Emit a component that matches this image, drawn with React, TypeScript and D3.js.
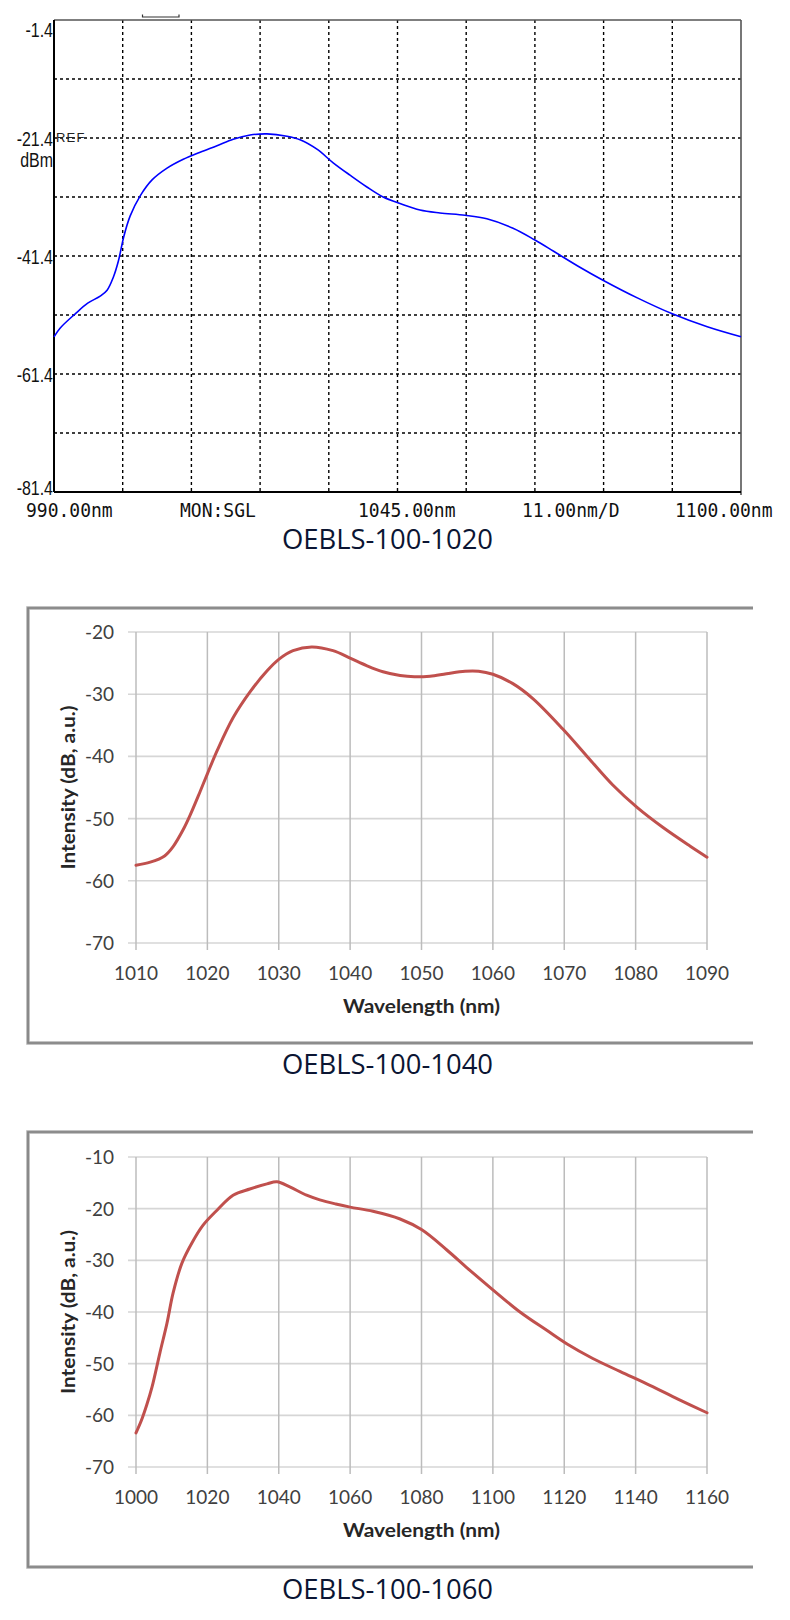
import React from 'react';
import * as d3 from 'd3';

// ---------- Panel 1 (OSA screen, OEBLS-100-1020) ----------
const osaWavelength = [990, 991, 993.4, 995.4, 997.4, 998.5, 999.5, 1000.3, 1001.2, 1002.2, 1003.8, 1005.7, 1008.1, 1010.7, 1013.4, 1016.1, 1018.7, 1021.4, 1024.1, 1027.3, 1029.4, 1032.1, 1034.7, 1037.4, 1040.1, 1042.7, 1045.4, 1048.6, 1051.8, 1055.8, 1059.3, 1063.5, 1067, 1070, 1074.2, 1077.9, 1083.4, 1089, 1094.6, 1100];
const osaPower = [-55.1, -53.6, -51.2, -49.4, -48.2, -47.2, -45.0, -42.3, -38.0, -34.6, -31.2, -28.5, -26.5, -25.0, -23.8, -22.7, -21.6, -20.9, -20.7, -21.1, -21.7, -23.3, -25.6, -27.7, -29.7, -31.4, -32.5, -33.6, -34.1, -34.5, -35.1, -36.7, -38.7, -40.6, -43.3, -45.5, -48.5, -51.2, -53.4, -55.1];
const osaYTicks = [-1.4, -21.4, -41.4, -61.4, -81.4];
const osaBottomLabels = ['990.00nm', 'MON:SGL', '1045.00nm', '11.00nm/D', '1100.00nm'];

// ---------- Panel 2 (OEBLS-100-1040) ----------
const wl1040 = [1010, 1012, 1014, 1015.2, 1016.6, 1017.6, 1019, 1020, 1021.4, 1023.6, 1026, 1028.4, 1030, 1032, 1034.6, 1037.6, 1040, 1042.3, 1044.6, 1047, 1049, 1051.2, 1053.5, 1056.1, 1058, 1060, 1062.8, 1065.6, 1069.8, 1073.2, 1076.8, 1080.2, 1083.8, 1087.6, 1090];
const int1040 = [-57.5, -57.0, -56.0, -54.5, -51.8, -49.4, -45.6, -42.8, -39.0, -33.8, -29.6, -26.2, -24.4, -23.0, -22.4, -23.0, -24.2, -25.4, -26.4, -27.0, -27.2, -27.1, -26.7, -26.3, -26.3, -26.8, -28.3, -30.7, -35.6, -40.0, -44.6, -48.2, -51.4, -54.4, -56.2];
const xTicks1040 = [1010, 1020, 1030, 1040, 1050, 1060, 1070, 1080, 1090];
const yTicks1040 = [-20, -30, -40, -50, -60, -70];

// ---------- Panel 3 (OEBLS-100-1060) ----------
const wl1060 = [1000, 1001.5, 1003, 1004.5, 1006.7, 1008.7, 1010.4, 1012.9, 1015.7, 1018.8, 1022.7, 1027.2, 1031.9, 1036.7, 1039.5, 1043.1, 1047.8, 1051.5, 1056, 1060, 1066.4, 1074, 1080.1, 1087.1, 1093, 1100, 1107.6, 1115.2, 1120.8, 1128, 1135.6, 1144, 1152, 1160];
const int1060 = [-63.4, -61.0, -58.0, -54.5, -47.9, -42.1, -36.3, -30.5, -26.6, -23.2, -20.3, -17.4, -16.2, -15.2, -14.8, -15.8, -17.4, -18.3, -19.1, -19.7, -20.5, -22.0, -24.1, -28.0, -31.6, -35.7, -40.0, -43.6, -46.2, -49.0, -51.5, -54.2, -56.9, -59.5];
const xTicks1060 = [1000, 1020, 1040, 1060, 1080, 1100, 1120, 1140, 1160];
const yTicks1060 = [-10, -20, -30, -40, -50, -60, -70];

const captions = ['OEBLS-100-1020', 'OEBLS-100-1040', 'OEBLS-100-1060'];
const xTitle = 'Wavelength (nm)';
const yTitle = 'Intensity (dB, a.u.)';

const W = 790;
const H = 1620;

function OsaPanel() {
  const L = 54, R = 741, T = 20, B = 492;
  const x = d3.scaleLinear().domain([990, 1100]).range([L, R]);
  const y = d3.scaleLinear().domain([-81.4, -1.4]).range([B, T]);
  const vGrid = d3.range(1, 10).map((i) => 990 + 11 * i);
  const hGrid = d3.range(1, 8).map((i) => -81.4 + 10 * i);
  const line = d3
    .line<number>()
    .x((_, i) => x(osaWavelength[i]))
    .y((d) => y(d))
    .curve(d3.curveCatmullRom.alpha(0.5));
  const labelStarts = [26, 180, 358, 522, 675];
  return (
    <g>
      {vGrid.map((v) => (
        <line key={'v' + v} x1={x(v)} x2={x(v)} y1={T} y2={B} stroke="#000" strokeWidth={1.4} strokeDasharray="3,3" />
      ))}
      {hGrid.map((h) => (
        <line key={'h' + h} x1={L} x2={R} y1={y(h)} y2={y(h)} stroke="#000" strokeWidth={1.4} strokeDasharray="3,3" />
      ))}
      <line x1={L} x2={R} y1={T} y2={T} stroke="#555" strokeWidth={1.6} />
      <line x1={R} x2={R} y1={T} y2={B + 3} stroke="#555" strokeWidth={1.6} />
      <line x1={L} x2={L} y1={T} y2={B} stroke="#000" strokeWidth={2} />
      <line x1={L} x2={R} y1={B} y2={B} stroke="#000" strokeWidth={2} />
      <path d={line(osaPower) || ''} fill="none" stroke="#0000ff" strokeWidth={1.6} />
      <path d="M142.5,14.5 V17 H179 V14.5" fill="none" stroke="#333" strokeWidth={1.2} />
      {osaYTicks.map((t, i) => {
        const off = i === 0 ? 17 : i === osaYTicks.length - 1 ? 3 : 7.5;
        return (
          <text key={'yt' + t} transform={`translate(53,${y(t) + off}) scale(0.76,1)`} textAnchor="end" fontFamily="'Liberation Sans', Arial, sans-serif" fontSize={21} fill="#111">
            {t.toFixed(1)}
          </text>
        );
      })}
      <text x={56} y={142} fontFamily="'Liberation Sans', Arial, sans-serif" fontSize={13} letterSpacing={1.2} fill="#222">REF</text>
      <text transform={`translate(53,${y(-21.4) + 29}) scale(0.76,1)`} textAnchor="end" fontFamily="'Liberation Sans', Arial, sans-serif" fontSize={21} fill="#111">dBm</text>
      {osaBottomLabels.map((s, i) => (
        <text key={s} transform={`translate(${labelStarts[i]},517) scale(0.9,1)`} fontFamily="'DejaVu Sans Mono', 'Liberation Mono', monospace" fontSize={20} fill="#111">
          {s}
        </text>
      ))}
    </g>
  );
}

interface ExcelProps {
  frame: { x0: number; x1: number; y0: number; y1: number };
  plot: { l: number; r: number; t: number; b: number };
  xs: number[];
  ys: number[];
  xTicks: number[];
  yTicks: number[];
}

function ExcelPanel({ frame, plot, xs, ys, xTicks, yTicks }: ExcelProps) {
  const x = d3.scaleLinear().domain([xTicks[0], xTicks[xTicks.length - 1]]).range([plot.l, plot.r]);
  const y = d3.scaleLinear().domain([yTicks[yTicks.length - 1], yTicks[0]]).range([plot.b, plot.t]);
  const line = d3
    .line<number>()
    .x((_, i) => x(xs[i]))
    .y((d) => y(d))
    .curve(d3.curveCatmullRom.alpha(0.5));
  const font = "Lato, 'Open Sans', sans-serif";
  const cx = (plot.l + plot.r) / 2;
  const cy = (plot.t + plot.b) / 2;
  return (
    <g>
      <path d={`M${frame.x1},${frame.y0} H${frame.x0} V${frame.y1} H${frame.x1}`} fill="none" stroke="#b0b0b0" strokeWidth={3.5} />
      <path d={`M${frame.x1},${frame.y0} H${frame.x0} V${frame.y1} H${frame.x1}`} fill="none" stroke="#808080" strokeWidth={1.6} />
      {yTicks.map((t) => (
        <line key={'h' + t} x1={plot.l - 8} x2={plot.r} y1={y(t)} y2={y(t)} stroke="#d6d6d6" strokeWidth={1.6} />
      ))}
      {xTicks.map((t) => (
        <line key={'v' + t} x1={x(t)} x2={x(t)} y1={plot.t} y2={plot.b + 7} stroke="#bcbcbc" strokeWidth={1.5} />
      ))}
      <path d={line(ys) || ''} fill="none" stroke="#c0504d" strokeWidth={3} strokeLinejoin="round" strokeLinecap="round" />
      {yTicks.map((t) => (
        <text key={'yl' + t} x={plot.l - 22} y={y(t) + 7} textAnchor="end" fontFamily={font} fontSize={19} fill="#404040">
          {t}
        </text>
      ))}
      {xTicks.map((t) => (
        <text key={'xl' + t} x={x(t)} y={plot.b + 37} textAnchor="middle" fontFamily={font} fontSize={19} fill="#404040">
          {t}
        </text>
      ))}
      <text x={cx - 78.5} y={plot.b + 70} textLength={157} lengthAdjust="spacingAndGlyphs" fontFamily={font} fontWeight="bold" fontSize={19} fill="#262626">
        {xTitle}
      </text>
      <text transform={`translate(75,${cy}) rotate(-90)`} x={-82} y={0} textLength={164} lengthAdjust="spacingAndGlyphs" fontFamily={font} fontWeight="bold" fontSize={19} fill="#262626">
        {yTitle}
      </text>
    </g>
  );
}

export default function App() {
  const captionBaselines = [549, 1074, 1599];
  return (
    <svg width={W} height={H} viewBox={`0 0 ${W} ${H}`} style={{ position: 'absolute', left: 0, top: 0, background: '#fff' }}>
      <rect x={0} y={0} width={W} height={H} fill="#fff" />
      <OsaPanel />
      <ExcelPanel
        frame={{ x0: 28, x1: 753, y0: 608, y1: 1043 }}
        plot={{ l: 136, r: 707, t: 632, b: 943 }}
        xs={wl1040}
        ys={int1040}
        xTicks={xTicks1040}
        yTicks={yTicks1040}
      />
      <ExcelPanel
        frame={{ x0: 28, x1: 753, y0: 1132, y1: 1567 }}
        plot={{ l: 136, r: 707, t: 1157, b: 1467 }}
        xs={wl1060}
        ys={int1060}
        xTicks={xTicks1060}
        yTicks={yTicks1060}
      />
      {captions.map((c, i) => (
        <text key={c} x={282} y={captionBaselines[i]} textLength={211} lengthAdjust="spacingAndGlyphs" fontFamily="'Open Sans', 'Noto Sans', sans-serif" fontSize={28} fill="#0b1533">
          {c}
        </text>
      ))}
    </svg>
  );
}
